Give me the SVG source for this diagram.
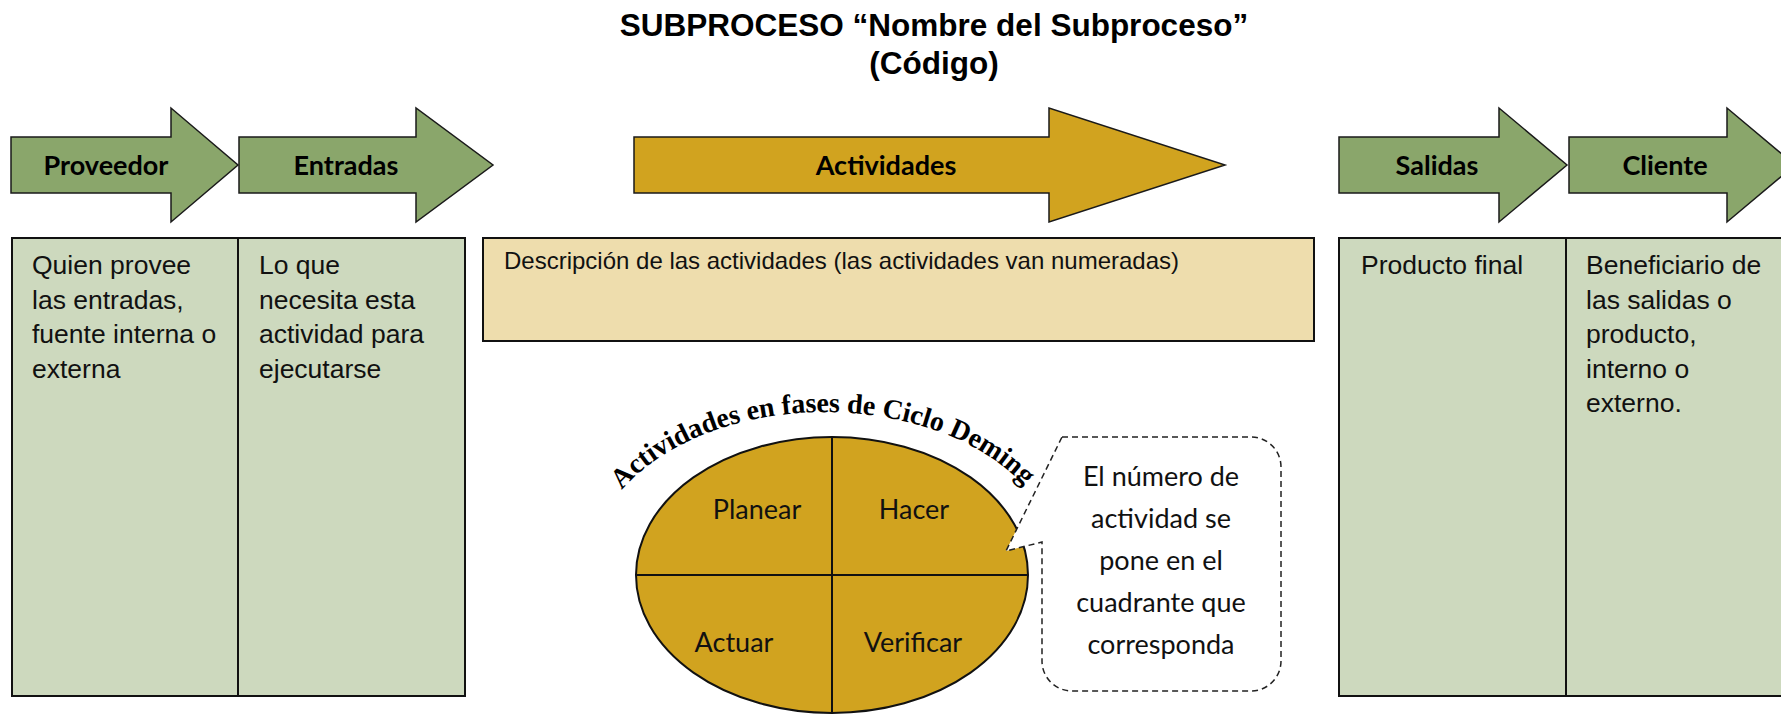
<svg xmlns="http://www.w3.org/2000/svg" width="1781" height="715" viewBox="0 0 1781 715">
<style>
.ag{fill:#8AA66B;stroke:#1a1a1a;stroke-width:1.5}
.ay{fill:#D1A31F;stroke:#1a1a1a;stroke-width:1.5}
.lbl{font-family:Lato,"Open Sans",sans-serif;font-weight:700;font-size:27px;fill:#000;text-anchor:middle}
.cell{fill:#CDD9BE;stroke:#111;stroke-width:2}
.desc{fill:#EEDDAD;stroke:#111;stroke-width:2}
.body{font-family:"Liberation Sans",Arial,sans-serif;font-size:26.5px;fill:#111}
.title{font-family:"Liberation Sans",Arial,sans-serif;font-weight:700;font-size:31.5px;fill:#000;text-anchor:middle}
.q{font-family:Lato,"Open Sans",sans-serif;font-size:27px;fill:#111;text-anchor:middle}
.ln{stroke:#111;stroke-width:2;fill:none}
</style>
<defs>
<path id="arc" d="M 622 490 A 233 153 0 0 1 1028 490"/>
</defs>
<rect width="1781" height="715" fill="#fff"/>
<g id="title">
<text class="title" x="934" y="36">SUBPROCESO “Nombre del Subproceso”</text>
<text class="title" x="934" y="74">(Código)</text>
</g>
<g id="arrow-proveedor">
<path class="ag" d="M11 137 H171 V108 L238 165 L171 222 V193 H11 Z"/>
<text class="lbl" x="106" y="175">Proveedor</text>
</g>
<g id="arrow-entradas">
<path class="ag" d="M239 137 H416 V108 L493 165 L416 222 V193 H239 Z"/>
<text class="lbl" x="346" y="175">Entradas</text>
</g>
<g id="arrow-actividades">
<path class="ay" d="M634 137 H1049 V108 L1225 165 L1049 222 V193 H634 Z"/>
<text class="lbl" x="886" y="175">Actividades</text>
</g>
<g id="arrow-salidas">
<path class="ag" d="M1339 137 H1499 V108 L1567 165 L1499 222 V193 H1339 Z"/>
<text class="lbl" x="1437" y="175">Salidas</text>
</g>
<g id="arrow-cliente">
<path class="ag" d="M1569 137 H1727 V108 L1795 165 L1727 222 V193 H1569 Z"/>
<text class="lbl" x="1665" y="175">Cliente</text>
</g>
<g id="table-left">
<rect class="cell" x="12" y="238" width="453" height="458"/>
<line class="ln" x1="238" y1="238" x2="238" y2="696"/>
<text class="body" x="32" y="274">Quien provee<tspan x="32" dy="34.5">las entradas,</tspan><tspan x="32" dy="34.5">fuente interna o</tspan><tspan x="32" dy="34.5">externa</tspan></text>
<text class="body" x="259" y="274">Lo que<tspan x="259" dy="34.5">necesita esta</tspan><tspan x="259" dy="34.5">actividad para</tspan><tspan x="259" dy="34.5">ejecutarse</tspan></text>
</g>
<g id="desc-box">
<rect class="desc" x="483" y="238" width="831" height="103"/>
<text class="body" x="504" y="269" style="font-size:24px">Descripción de las actividades (las actividades van numeradas)</text>
</g>
<g id="table-right">
<rect class="cell" x="1339" y="238" width="470" height="458"/>
<line class="ln" x1="1566" y1="238" x2="1566" y2="696"/>
<text class="body" x="1361" y="274">Producto final</text>
<text class="body" x="1586" y="274">Beneficiario de<tspan x="1586" dy="34.5">las salidas o</tspan><tspan x="1586" dy="34.5">producto,</tspan><tspan x="1586" dy="34.5">interno o</tspan><tspan x="1586" dy="34.5">externo.</tspan></text>
</g>
<g id="deming">
<ellipse cx="832" cy="575" rx="196" ry="138" fill="#D1A31F" stroke="#111" stroke-width="2"/>
<line class="ln" x1="832" y1="437" x2="832" y2="713"/>
<line class="ln" x1="636" y1="575" x2="1028" y2="575"/>
<text class="q" x="757" y="519">Planear</text>
<text class="q" x="914" y="519">Hacer</text>
<text class="q" x="734" y="652">Actuar</text>
<text class="q" x="913" y="652">Verificar</text>
</g>
<g id="deming-title">
<text style="font-family:'Liberation Serif','Times New Roman',serif;font-weight:700;font-size:28px;fill:#000"><textPath href="#arc" textLength="442" lengthAdjust="spacing">Actividades en fases de Ciclo Deming</textPath></text>
</g>
<g id="callout">
<path d="M 1062 437 H 1251 A 30 30 0 0 1 1281 467 V 661 A 30 30 0 0 1 1251 691 H 1072 A 30 30 0 0 1 1042 661 V 542 L 1006 551 Z" fill="#fff" stroke="#222" stroke-width="1.5" stroke-dasharray="6 4"/>
<text class="q" x="1161" y="486">El número de<tspan x="1161" dy="42">actividad se</tspan><tspan x="1161" dy="42">pone en el</tspan><tspan x="1161" dy="42">cuadrante que</tspan><tspan x="1161" dy="42">corresponda</tspan></text>
</g>
</svg>
